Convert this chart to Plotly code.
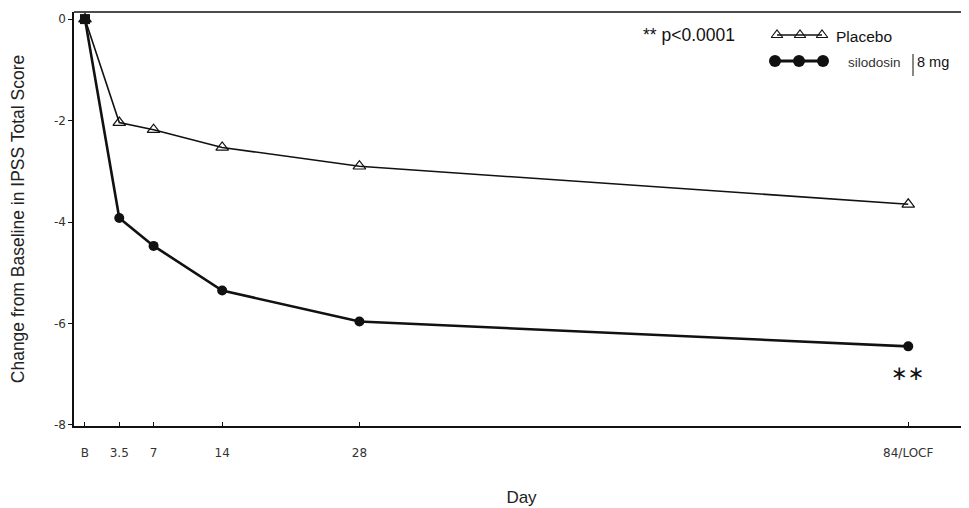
import plotly.graph_objects as go

# ---- data ----
days = [0, 3.5, 7, 14, 28, 84]
tick_labels = ["B", "3.5", "7", "14", "28", "84/LOCF"]
placebo = [0, -2.04, -2.18, -2.53, -2.90, -3.65]
silodosin = [0, -3.92, -4.47, -5.35, -5.96, -6.45]
y_ticks = [0, -2, -4, -6, -8]

FONT = "Liberation Sans, Arial, sans-serif"
TFONT = "DejaVu Sans, sans-serif"
INK = "#111111"
GREY = "#333333"

fig = go.Figure()

fig.add_trace(go.Scatter(
    x=days, y=placebo, mode="lines+markers", name="Placebo",
    line=dict(color=INK, width=1.6),
    marker=dict(symbol="triangle-up-open", size=11, color=INK, line=dict(width=1.2)),
    showlegend=False,
))
fig.add_trace(go.Scatter(
    x=days, y=silodosin, mode="lines+markers", name="silodosin 8 mg",
    line=dict(color=INK, width=2.6),
    marker=dict(symbol=["square"] + ["circle"] * (len(days) - 1), size=10, color=INK),
    showlegend=False,
))

# ---- custom legend on an overlay axis laid out in page pixels ----
fig.add_trace(go.Scatter(
    x=[777, 800, 822], y=[35, 35, 35], xaxis="x2", yaxis="y2", mode="lines+markers",
    line=dict(color=INK, width=1.4),
    marker=dict(symbol="triangle-up-open", size=10, color=INK, line=dict(width=1.1)),
    showlegend=False, hoverinfo="skip",
))
fig.add_trace(go.Scatter(
    x=[775, 799, 823], y=[61, 61, 61], xaxis="x2", yaxis="y2", mode="lines+markers",
    line=dict(color=INK, width=2.8),
    marker=dict(symbol="circle", size=12, color=INK),
    showlegend=False, hoverinfo="skip",
))

annotations = [
    dict(x=641, y=35, xref="x2", yref="y2", text="** p<0.0001", showarrow=False,
         xanchor="left", yanchor="middle", font=dict(family=FONT, size=17.5, color=INK)),
    dict(x=834, y=36, xref="x2", yref="y2", text="Placebo", showarrow=False,
         xanchor="left", yanchor="middle", font=dict(family=FONT, size=15.5, color=INK)),
    dict(x=846, y=62, xref="x2", yref="y2", text="silodosin", showarrow=False,
         xanchor="left", yanchor="middle", font=dict(family=FONT, size=13.5, color=GREY)),
    dict(x=915, y=62, xref="x2", yref="y2", text="8 mg", showarrow=False,
         xanchor="left", yanchor="middle", font=dict(family=FONT, size=14.5, color=INK)),
    dict(x=days[-1], y=silodosin[-1], xref="x", yref="y", text="\u2217\u2217", showarrow=False,
         yshift=-27, xanchor="center", yanchor="middle",
         font=dict(family="DejaVu Sans, sans-serif", size=20, color=INK)),
]

shapes = [
    dict(type="line", xref="x2", yref="y2", x0=913, x1=913, y0=54, y1=76,
         line=dict(color=INK, width=1)),
]

# page has an 8px body margin, so the figure is 961x500 placed at (8,8)
fig.update_layout(
    width=961, height=500,
    margin=dict(l=66, r=0, t=4, b=82),
    paper_bgcolor="white", plot_bgcolor="white",
    font=dict(family=FONT, color=INK),
    annotations=annotations, shapes=shapes,
    xaxis=dict(
        range=[-1.12, 90.2], tickmode="array", tickvals=days, ticktext=tick_labels,
        showgrid=False, zeroline=False, showline=True, linecolor=INK, linewidth=1.5,
        ticks="inside", ticklen=4, tickcolor=INK, automargin=False,
        tickfont=dict(family=TFONT, size=12, color=GREY), ticklabelstandoff=15,
        title=dict(text="Day", font=dict(size=17, color="#222"), standoff=32),
    ),
    yaxis=dict(
        range=[-8.02, 0.14], tickmode="array", tickvals=y_ticks,
        ticktext=[str(v) for v in y_ticks],
        showgrid=False, zeroline=False, showline=True, linecolor=INK, linewidth=1.5,
        ticks="outside", ticklen=4, tickcolor=INK, automargin=False,
        tickfont=dict(family=TFONT, size=12, color=GREY),
        title=dict(text="Change from Baseline in IPSS Total Score",
                   font=dict(size=17.5, color="#222"), standoff=26),
    ),
    xaxis2=dict(overlaying="x", range=[74, 969], visible=False, fixedrange=True),
    yaxis2=dict(overlaying="y", range=[426, 12], visible=False, fixedrange=True),
)

fig.add_shape(type="line", xref="paper", yref="paper", x0=0, x1=1, y0=1, y1=1,
              line=dict(color=INK, width=1.5))

fig.write_html("out.html")
